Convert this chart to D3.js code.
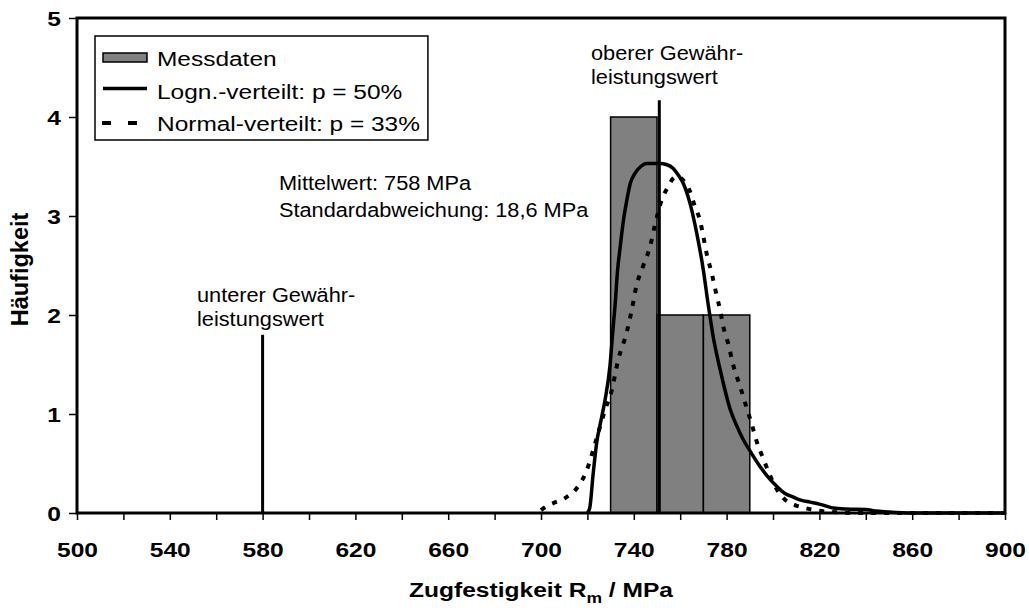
<!DOCTYPE html>
<html>
<head>
<meta charset="utf-8">
<script src="https://cdn.jsdelivr.net/npm/d3@7"></script>
<style>
  body { margin: 0; background: #fff; }
  svg { font-family: "Liberation Sans", Arial, sans-serif; }
</style>
</head>
<body>
<svg id="chart" width="1029" height="610"></svg>
<script>

// histogram of the measured values
var binStart = [730, 750, 770]
var binEnd = [750, 770, 790]
var binCount = [4, 2, 2]

// lognormal fit (solid)
var lognX = [720, 721, 722.5, 724, 726, 727.6, 729.7, 731, 732, 733, 734, 735.5, 737, 738.5, 740.5, 743, 745.5,
             749.9, 751.3, 754, 757, 759, 761.3, 764.2, 767.1, 770, 772.1, 774.3, 777.2, 779, 781.5, 784, 787.2,
             790, 794.4, 798, 801.6, 805, 808.8, 812, 816, 820, 823, 826, 831.8, 840, 844.7, 850, 860, 900]
var lognY = [0, 0.05, 0.4, 0.71, 0.95, 1.14, 1.48, 1.85, 2.12, 2.45, 2.66, 2.95, 3.16, 3.33, 3.43, 3.5, 3.53,
             3.53, 3.53, 3.52, 3.48, 3.42, 3.33, 3.13, 2.83, 2.45, 2.1, 1.77, 1.45, 1.27, 1.05, 0.9, 0.74,
             0.63, 0.47, 0.36, 0.27, 0.2, 0.16, 0.13, 0.11, 0.09, 0.07, 0.05, 0.04, 0.035, 0.02, 0.01, 0, 0]

// normal fit (dotted)
var normX = [700, 702.5, 705.3, 710.3, 715.4, 719.7, 723.3, 727.6, 730.5, 733.3, 737, 739.1, 741.2, 744.1, 747,
             749.1, 752, 754.9, 757, 759, 761.3, 764.2, 766.4, 768.5, 770, 771.4, 773.6, 775.7, 777.2, 778.6,
             780.7, 782.9, 785.8, 788.4, 790.8, 793, 795.8, 798, 800.9, 804.5, 809.5, 813.8, 818, 825, 840, 900]
var normY = [0.03, 0.07, 0.1, 0.15, 0.25, 0.43, 0.7, 1.04, 1.24, 1.55, 1.83, 2.05, 2.3, 2.5, 2.69,
             2.91, 3.16, 3.3, 3.38, 3.4, 3.36, 3.25, 3.09, 2.96, 2.79, 2.62, 2.42, 2.2, 2.05, 1.88,
             1.71, 1.49, 1.28, 1.08, 0.9, 0.72, 0.55, 0.42, 0.27, 0.15, 0.08, 0.05, 0.03, 0.01, 0, 0]

// guaranteed limits (Gewährleistungswerte)
var limitX = [580, 751]
var limitTop = [1.8, 4.17]

var xTicks = d3.range(500, 901, 20)
var yTicks = [0, 1, 2, 3, 4, 5]

var legendLabels = ["Messdaten", "Logn.-verteilt: p = 50%", "Normal-verteilt: p = 33%"]

var svg = d3.select("#chart")
var plotL = 77, plotR = 1005, plotT = 18, plotB = 513

var x = d3.scaleLinear().domain([500, 900]).range([plotL, plotR])
var y = d3.scaleLinear().domain([0, 5]).range([plotB, plotT])

// the original picture is stretched sideways a little
var SX = 1.17

// bars
svg.append("g").selectAll("rect")
  .data(binCount)
  .join("rect")
    .attr("x", function(d, i) { return x(binStart[i]) })
    .attr("y", function(d) { return y(d) })
    .attr("width", function(d, i) { return x(binEnd[i]) - x(binStart[i]) })
    .attr("height", function(d) { return y(0) - y(d) })
    .attr("fill", "#808080")
    .attr("stroke", "#000")
    .attr("stroke-width", 1.5)

// limit lines
svg.append("g").selectAll("line")
  .data(limitX)
  .join("line")
    .attr("x1", function(d) { return x(d) })
    .attr("x2", function(d) { return x(d) })
    .attr("y1", y(0))
    .attr("y2", function(d, i) { return y(limitTop[i]) })
    .attr("stroke", "#000")
    .attr("stroke-width", 3)

// fitted curves
var line = d3.line()
  .x(function(d) { return x(d[0]) })
  .y(function(d) { return y(d[1]) })
  .curve(d3.curveMonotoneX)

svg.append("path")
  .attr("d", line(d3.zip(normX, normY)))
  .attr("fill", "none")
  .attr("stroke", "#000")
  .attr("stroke-width", 4)
  .attr("stroke-dasharray", "5,8")

svg.append("path")
  .attr("d", line(d3.zip(lognX, lognY)))
  .attr("fill", "none")
  .attr("stroke", "#000")
  .attr("stroke-width", 3.5)
  .attr("stroke-linejoin", "round")

// axes
var xAxis = svg.append("g")
  .attr("transform", "translate(0," + plotB + ")")
  .call(d3.axisBottom(x).tickValues(xTicks).tickSize(7).tickSizeOuter(0)
    .tickFormat(function(d) { return (d - 500) % 40 === 0 ? d : "" }))
xAxis.selectAll("text")
  .attr("y", 0).attr("dy", 0)
  .attr("transform", "translate(0,44) scale(" + SX + ",1)")

var yAxis = svg.append("g")
  .attr("transform", "translate(" + plotL + ",0)")
  .call(d3.axisLeft(y).tickValues(yTicks).tickSize(8).tickSizeOuter(0).tickFormat(d3.format("d")))
yAxis.selectAll("text")
  .attr("x", 0).attr("dy", "0.36em")
  .attr("transform", "translate(-16,0) scale(" + SX + ",1)")

svg.selectAll(".tick text")
  .attr("fill", "#000")
  .style("font-size", "21px")
  .style("font-weight", "bold")
svg.selectAll(".tick line").attr("stroke", "#000").attr("stroke-width", 1.5)
svg.selectAll(".domain").remove()

// frame of the plot area
svg.append("rect")
  .attr("x", plotL).attr("y", plotT)
  .attr("width", plotR - plotL).attr("height", plotB - plotT)
  .attr("fill", "none")
  .attr("stroke", "#000")
  .attr("stroke-width", 3)

// axis titles
var xt = svg.append("text")
  .attr("transform", "translate(" + ((plotL + plotR) / 2) + ",597) scale(" + SX + ",1)")
  .attr("text-anchor", "middle")
  .style("font-size", "21px")
  .style("font-weight", "bold")
xt.append("tspan").text("Zugfestigkeit R")
xt.append("tspan").attr("dy", 6).style("font-size", "15px").text("m")
xt.append("tspan").attr("dy", -6).text(" / MPa")

svg.append("text")
  .attr("transform", "translate(20," + ((plotT + plotB) / 2 + 4) + ") rotate(-90)")
  .attr("text-anchor", "middle")
  .attr("dy", "0.36em")
  .style("font-size", "23.5px")
  .style("font-weight", "bold")
  .text("Häufigkeit")

// annotations
function note(px, py, lines, gap) {
  var g = svg.append("g")
  lines.forEach(function(s, i) {
    g.append("text")
      .attr("transform", "translate(" + px + "," + (py + i * gap) + ") scale(1.115,1)")
      .style("font-size", "19.5px")
      .text(s)
  })
}
note(591, 60, ["oberer Gewähr-", "leistungswert"], 24)
note(197, 302, ["unterer Gewähr-", "leistungswert"], 24)
note(279, 190, ["Mittelwert: 758 MPa", "Standardabweichung: 18,6 MPa"], 27)

// legend
var legX = 95, legY = 36, rowY = [66, 98.5, 131]
var legBox = svg.append("rect")
  .attr("x", legX).attr("y", legY)
  .attr("height", 104)
  .attr("fill", "#fff")
  .attr("stroke", "#000")
  .attr("stroke-width", 1.5)

var maxW = 0
legendLabels.forEach(function(s, i) {
  var t = svg.append("text")
    .attr("transform", "translate(157," + rowY[i] + ") scale(1.165,1)")
    .style("font-size", "21px")
    .text(s)
  maxW = Math.max(maxW, t.node().getComputedTextLength() * 1.165)
})
legBox.attr("width", 157 - legX + maxW + 8)

svg.append("rect")
  .attr("x", 103).attr("y", 53).attr("width", 44).attr("height", 9)
  .attr("fill", "#808080").attr("stroke", "#000").attr("stroke-width", 1.5)
svg.append("line")
  .attr("x1", 103).attr("x2", 147).attr("y1", 88.5).attr("y2", 88.5)
  .attr("stroke", "#000").attr("stroke-width", 3.5)
svg.append("line")
  .attr("x1", 102).attr("x2", 147).attr("y1", 123).attr("y2", 123)
  .attr("stroke", "#000").attr("stroke-width", 4).attr("stroke-dasharray", "9,17")

</script>
</body>
</html>
